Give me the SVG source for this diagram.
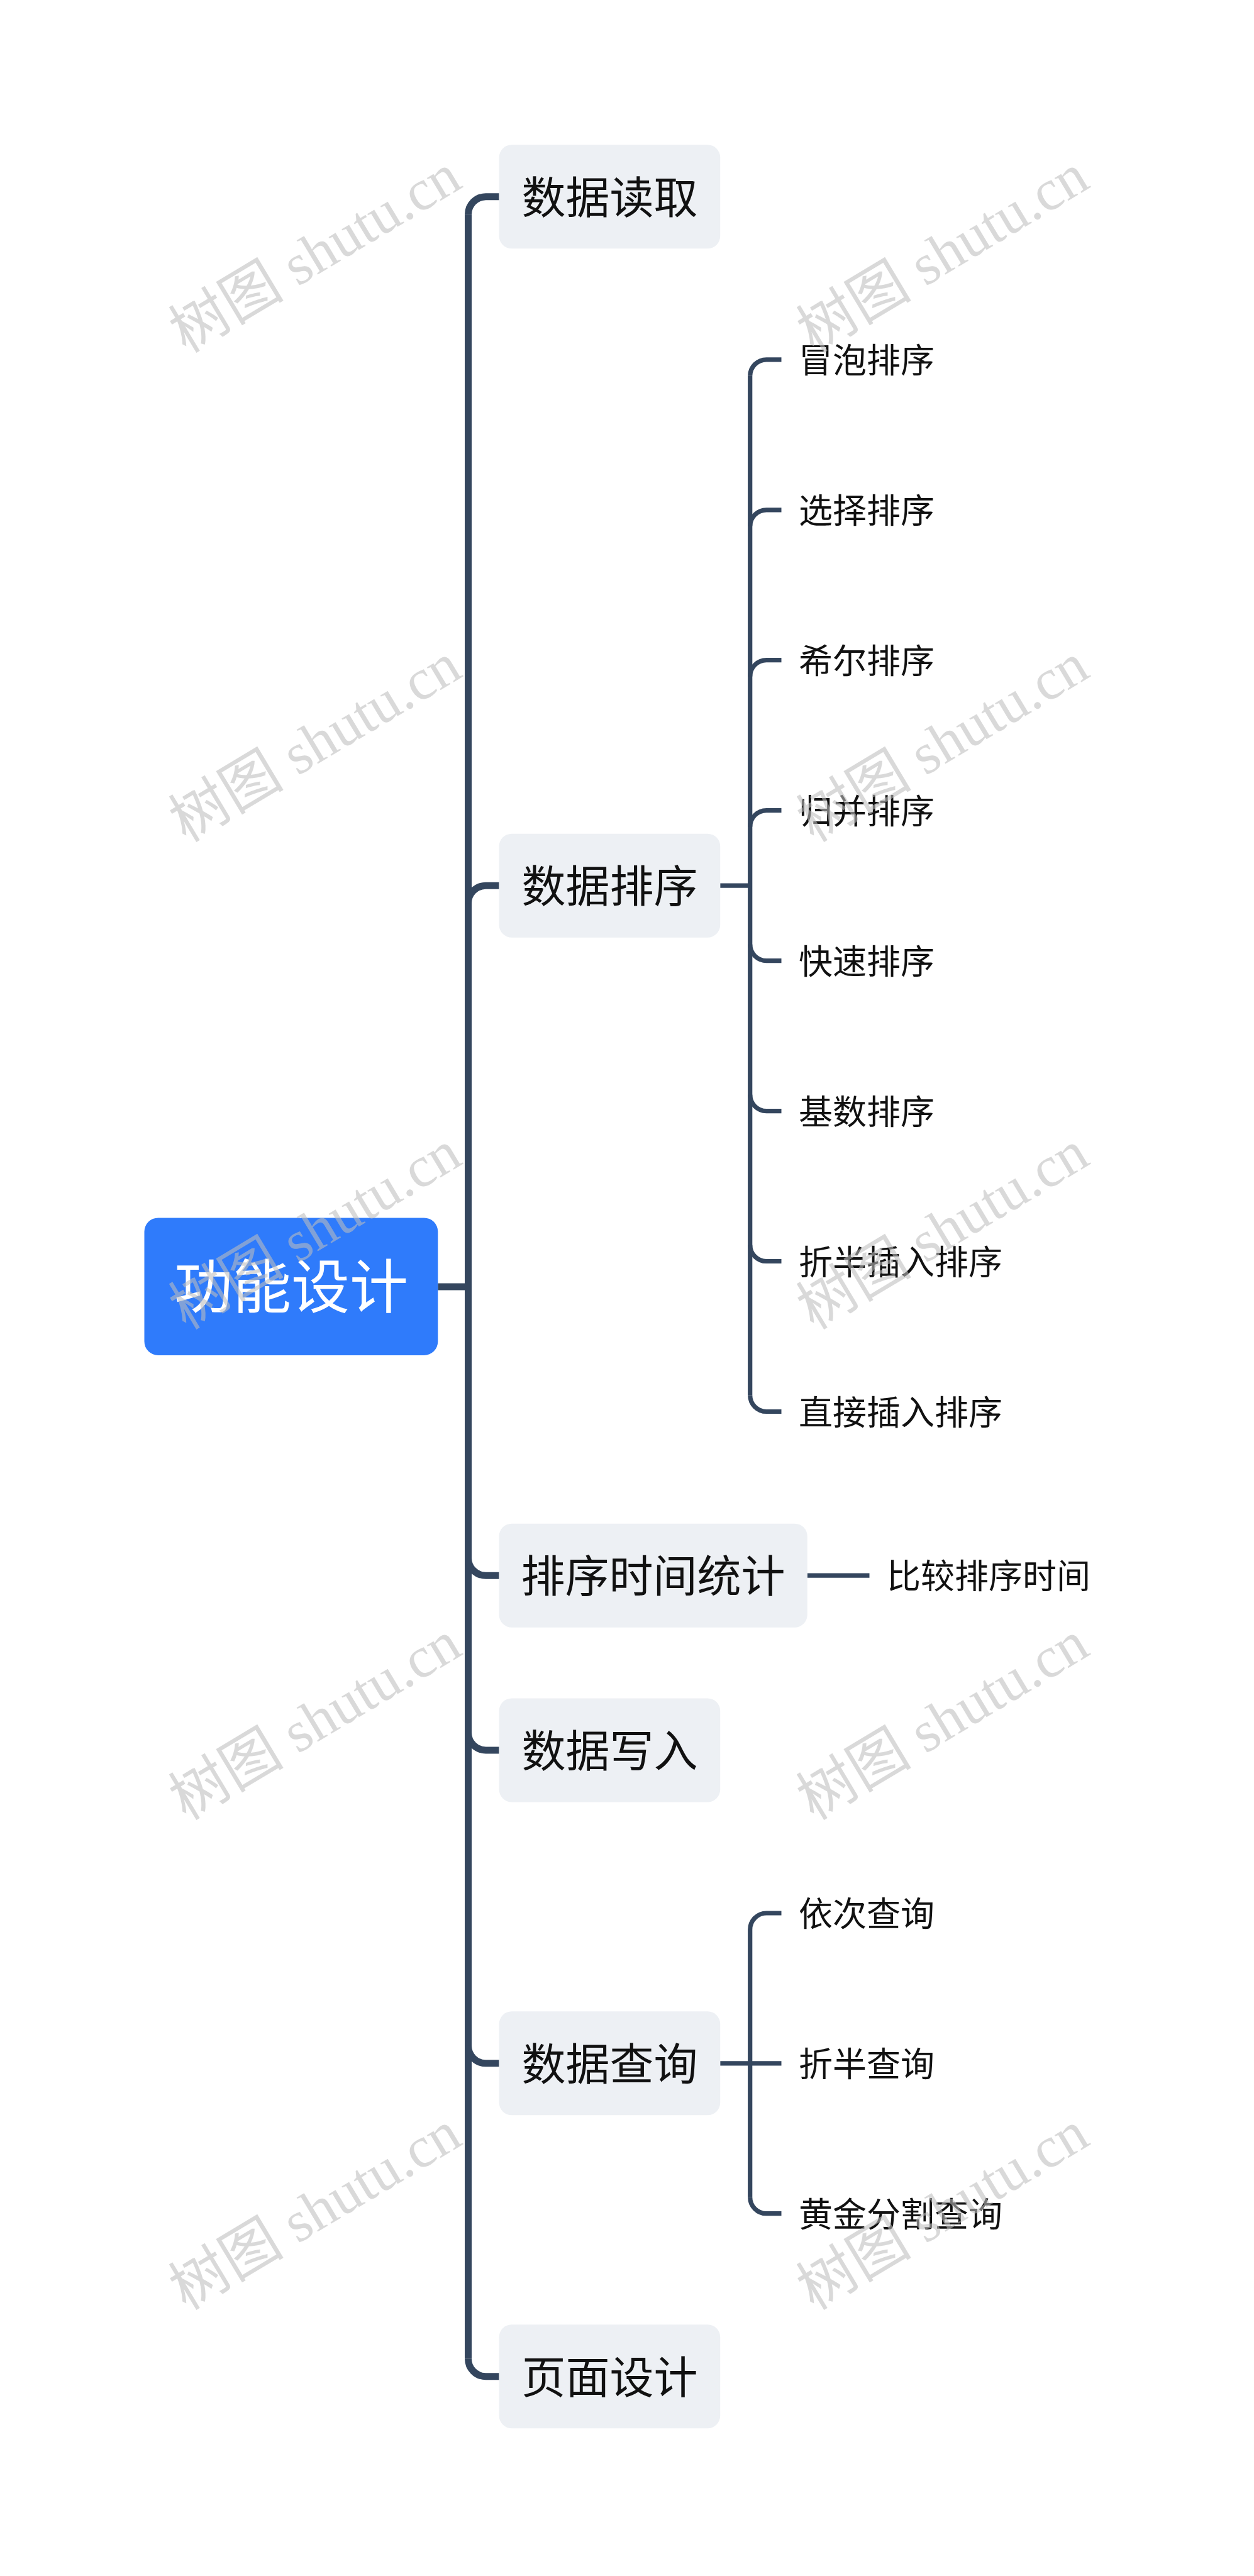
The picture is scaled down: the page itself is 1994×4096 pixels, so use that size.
<svg xmlns="http://www.w3.org/2000/svg" width="1994" height="4096" viewBox="0 0 1994 4096">
<style>
.bg{fill:#ffffff}
.root rect{fill:#2f7bfb}
.root text{fill:#ffffff;font-family:"Noto Sans CJK SC","Noto Sans",sans-serif;font-size:93px;text-anchor:middle}
.main rect{fill:#edf0f4}
.main text{fill:#111111;font-family:"Noto Sans CJK SC","Noto Sans",sans-serif;font-size:70px;text-anchor:middle}
.leaf text{fill:#111111;font-family:"Noto Sans CJK SC","Noto Sans",sans-serif;font-size:54px}
.c1{fill:none;stroke:#34465e;stroke-width:11}
.c2{fill:none;stroke:#34465e;stroke-width:7.2}
.wm{fill:#bdbdbd;fill-opacity:0.58;font-family:"Liberation Serif","Noto Sans CJK SC",serif;font-size:92px;text-anchor:middle;dominant-baseline:central}
</style>
<rect class="bg" x="0" y="0" width="1994" height="4096"/>
<g id="connectors">
  <path class="c1" d="M696.3,2046.1 H744.5"/>
  <path class="c1" d="M744.5,340.8 V3750.7"/>
  <path class="c1" d="M744.5,340.8 A28,28 0 0 1 772.5,312.8 H793.6"/>
  <path class="c1" d="M744.5,1436.2 A28,28 0 0 1 772.5,1408.2 H793.6"/>
  <path class="c1" d="M744.5,2477.2 A28,28 0 0 0 772.5,2505.2 H793.6"/>
  <path class="c1" d="M744.5,2754.9 A28,28 0 0 0 772.5,2782.9 H793.6"/>
  <path class="c1" d="M744.5,3252.8 A28,28 0 0 0 772.5,3280.8 H793.6"/>
  <path class="c1" d="M744.5,3750.7 A28,28 0 0 0 772.5,3778.7 H793.6"/>
  <path class="c2" d="M1145.2,1408.2 H1192.7"/>
  <path class="c2" d="M1192.7,597.8 V2218.5"/>
  <path class="c2" d="M1192.7,597.8 A26,26 0 0 1 1218.7,571.8 H1242.5"/>
  <path class="c2" d="M1192.7,836.8 A26,26 0 0 1 1218.7,810.8 H1242.5"/>
  <path class="c2" d="M1192.7,1075.7 A26,26 0 0 1 1218.7,1049.7 H1242.5"/>
  <path class="c2" d="M1192.7,1314.7 A26,26 0 0 1 1218.7,1288.7 H1242.5"/>
  <path class="c2" d="M1192.7,1501.6 A26,26 0 0 0 1218.7,1527.6 H1242.5"/>
  <path class="c2" d="M1192.7,1740.6 A26,26 0 0 0 1218.7,1766.6 H1242.5"/>
  <path class="c2" d="M1192.7,1979.5 A26,26 0 0 0 1218.7,2005.5 H1242.5"/>
  <path class="c2" d="M1192.7,2218.5 A26,26 0 0 0 1218.7,2244.5 H1242.5"/>
  <path class="c2" d="M1283.7,2505.2 H1382.5"/>
  <path class="c2" d="M1145.2,3280.8 H1242.5"/>
  <path class="c2" d="M1192.7,3068 V3493.7"/>
  <path class="c2" d="M1192.7,3068 A26,26 0 0 1 1218.7,3042 H1242.5"/>
  <path class="c2" d="M1192.7,3493.7 A26,26 0 0 0 1218.7,3519.7 H1242.5"/>
</g>
<g id="root" class="root"><rect x="229.5" y="1936.4" width="466.8" height="218.6" rx="22"/><text x="463" y="2079.6">功能设计</text></g>
<g id="n1" class="main"><rect x="793.6" y="230.3" width="351.6" height="165" rx="20"/><text x="969.4" y="339.8">数据读取</text></g>
<g id="n2" class="main"><rect x="793.6" y="1325.7" width="351.6" height="165" rx="20"/><text x="969.4" y="1435.2">数据排序</text></g>
<g id="n3" class="main"><rect x="793.6" y="2422.7" width="490.1" height="165" rx="20"/><text x="1038.6" y="2532.2">排序时间统计</text></g>
<g id="n4" class="main"><rect x="793.6" y="2700.4" width="351.6" height="165" rx="20"/><text x="969.4" y="2809.9">数据写入</text></g>
<g id="n5" class="main"><rect x="793.6" y="3198.3" width="351.6" height="165" rx="20"/><text x="969.4" y="3307.8">数据查询</text></g>
<g id="n6" class="main"><rect x="793.6" y="3696.2" width="351.6" height="165" rx="20"/><text x="969.4" y="3805.7">页面设计</text></g>
<g id="l1" class="leaf"><text x="1270" y="593">冒泡排序</text></g>
<g id="l2" class="leaf"><text x="1270" y="832">选择排序</text></g>
<g id="l3" class="leaf"><text x="1270" y="1070.9">希尔排序</text></g>
<g id="l4" class="leaf"><text x="1270" y="1309.9">归并排序</text></g>
<g id="l5" class="leaf"><text x="1270" y="1548.8">快速排序</text></g>
<g id="l6" class="leaf"><text x="1270" y="1787.8">基数排序</text></g>
<g id="l7" class="leaf"><text x="1270" y="2026.7">折半插入排序</text></g>
<g id="l8" class="leaf"><text x="1270" y="2265.7">直接插入排序</text></g>
<g id="l9" class="leaf"><text x="1410" y="2526.4">比较排序时间</text></g>
<g id="l10" class="leaf"><text x="1270" y="3063.2">依次查询</text></g>
<g id="l11" class="leaf"><text x="1270" y="3302">折半查询</text></g>
<g id="l12" class="leaf"><text x="1270" y="3540.9">黄金分割查询</text></g>
<g id="watermarks">
  <text class="wm" transform="translate(501,403) rotate(-31)">树图 shutu.cn</text>
  <text class="wm" transform="translate(1499,403) rotate(-31)">树图 shutu.cn</text>
  <text class="wm" transform="translate(501,1181) rotate(-31)">树图 shutu.cn</text>
  <text class="wm" transform="translate(1499,1181) rotate(-31)">树图 shutu.cn</text>
  <text class="wm" transform="translate(501,1956) rotate(-31)">树图 shutu.cn</text>
  <text class="wm" transform="translate(1499,1956) rotate(-31)">树图 shutu.cn</text>
  <text class="wm" transform="translate(501,2736) rotate(-31)">树图 shutu.cn</text>
  <text class="wm" transform="translate(1499,2736) rotate(-31)">树图 shutu.cn</text>
  <text class="wm" transform="translate(501,3515) rotate(-31)">树图 shutu.cn</text>
  <text class="wm" transform="translate(1499,3515) rotate(-31)">树图 shutu.cn</text>
</g>
</svg>
